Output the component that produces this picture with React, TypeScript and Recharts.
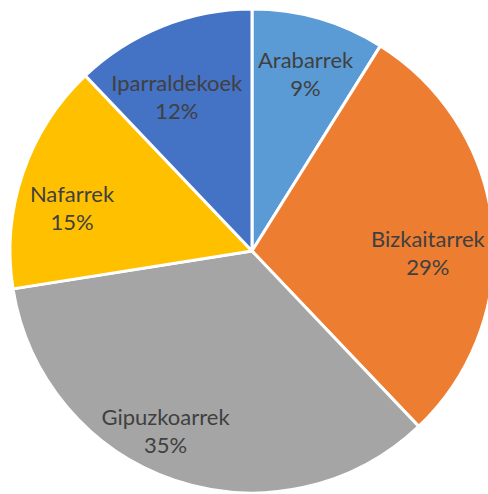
import { PieChart, Pie, Cell } from 'recharts';

const regions = ['Arabarrek', 'Bizkaitarrek', 'Gipuzkoarrek', 'Nafarrek', 'Iparraldekoek'];
const shares = [8.9, 29.0, 34.6, 15.4, 12.1];
const colors = ['#5B9BD5', '#ED7D31', '#A5A5A5', '#FFC000', '#4472C4'];

// label placement (fraction of radius, angle nudge in degrees, clockwise positive)
const labelRadius = [0.765, 0.727, 0.826, 0.765, 0.71];
const labelNudge = [0.8, 6.5, 6.9, -5.2, -4.2];

const data = regions.map((name, i) => ({ name, value: shares[i] }));

const RAD = Math.PI / 180;

const renderLabel = (entry: any) => {
  const { cx, cy, midAngle, outerRadius, name, percent, index } = entry;
  const r = outerRadius * labelRadius[index];
  const a = midAngle - labelNudge[index];
  const x = cx + r * Math.cos(-a * RAD);
  const y = cy + r * Math.sin(-a * RAD);
  return (
    <text
      x={x}
      y={y}
      textAnchor="middle"
      fill="#404040"
      fontSize={22}
      fontFamily="Lato, sans-serif"
    >
      <tspan x={x} dy={-6}>{name}</tspan>
      <tspan x={x} dy={28}>{`${Math.round(percent * 100)}%`}</tspan>
    </text>
  );
};

export default function App() {
  return (
    <div style={{ position: 'absolute', left: 0, top: 0, width: 488, height: 494, background: '#fff' }}>
      <PieChart width={488} height={494} margin={{ top: 0, right: 0, bottom: 0, left: 0 }}>
        <Pie
          data={data}
          dataKey="value"
          nameKey="name"
          cx={252}
          cy={251}
          outerRadius={242}
          startAngle={90}
          endAngle={-270}
          stroke="#fff"
          strokeWidth={3}
          labelLine={false}
          label={renderLabel}
          isAnimationActive={false}
        >
          {data.map((entry, index) => (
            <Cell key={`cell-${index}`} fill={colors[index]} />
          ))}
        </Pie>
      </PieChart>
    </div>
  );
}
